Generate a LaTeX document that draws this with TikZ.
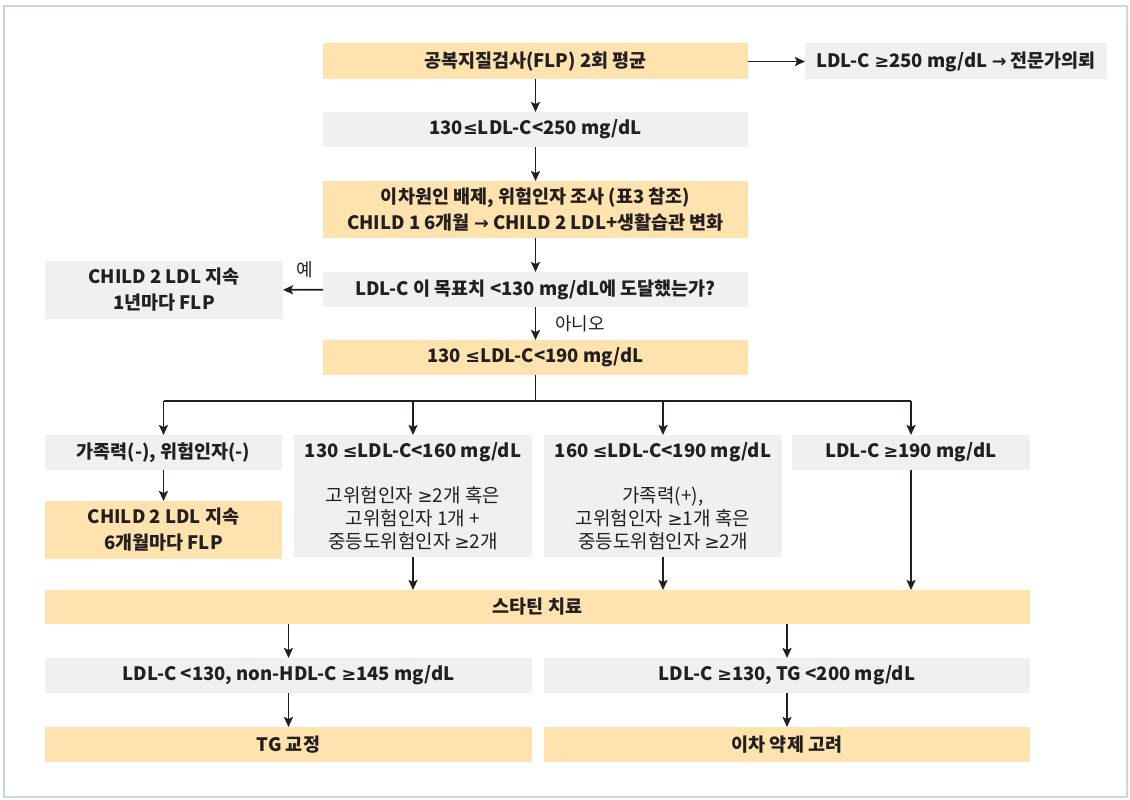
\documentclass[tikz,border=0pt]{standalone}
\usepackage{fontspec}
\setmainfont{Noto Sans CJK KR}
\newfontfamily\symf{DejaVu Sans}[Scale=0.95]
\newcommand{\gee}{{\symf ≥}}
\newcommand{\lee}{{\symf ≤}}
\newcommand{\rarr}{{\symf →}}
\usetikzlibrary{arrows.meta}
\definecolor{peach}{HTML}{FEE3AF}
\definecolor{lgray}{HTML}{EFF0F2}
\definecolor{framec}{HTML}{C9D6DC}
\definecolor{ink}{HTML}{231F20}
\tikzset{
  base/.style={inner sep=0pt, outer sep=0pt, text=ink, align=center, font=\fontsize{18.5}{26}\selectfont\bfseries},
  obox/.style={base, fill=peach},
  gbox/.style={base, fill=lgray},
  arr/.style={draw=ink, line width=1.8pt, -{Stealth[length=10pt,width=9pt,inset=2pt]}},
  ln/.style={draw=ink, line width=1.8pt},
  lbl/.style={inner sep=0pt, text=ink, font=\fontsize{18}{22}\selectfont},
  body/.style={inner sep=0pt, text=ink, align=center, font=\fontsize{19}{23}\selectfont},
}
\begin{document}
\begin{tikzpicture}[x=1pt,y=-1pt]
\useasboundingbox (0,0) rectangle (1130,800);
\draw[framec, line width=1.5pt] (4,6) rectangle (1127,797);

\node[obox, minimum width=425pt, minimum height=36pt] (n1) at (535.5,61.5) {공복지질검사(FLP) 2회 평균};
\node[gbox, minimum width=302pt, minimum height=36pt] (r1) at (956,61.5) {LDL-C \gee250 mg/dL \rarr\ 전문가의뢰};
\node[gbox, minimum width=425pt, minimum height=35pt] (n2) at (535.5,129.5) {130\lee LDL-C<250 mg/dL};
\node[obox, minimum width=425pt, minimum height=57pt] (n3) at (535.5,209.5) {이차원인 배제, 위험인자 조사 (표3 참조)\\CHILD 1 6개월 \rarr\ CHILD 2 LDL+생활습관 변화};
\node[gbox, minimum width=425pt, minimum height=35pt] (q) at (535.5,289.5) {LDL-C 이 목표치 <130 mg/dL에 도달했는가?};
\node[gbox, minimum width=238pt, minimum height=58pt] (y1) at (164,290) {CHILD 2 LDL 지속\\1년마다 FLP};
\node[obox, minimum width=425pt, minimum height=35pt] (n4) at (535.5,357.5) {130 \lee LDL-C<190 mg/dL};

\node[gbox, minimum width=237pt, minimum height=35pt] (A) at (163.5,452.5) {가족력(-), 위험인자(-)};
\node[obox, minimum width=237pt, minimum height=58pt] (A2) at (163.5,530) {CHILD 2 LDL 지속\\6개월마다 FLP};
\node[gbox, minimum width=238pt, minimum height=122pt] (B) at (413,496) {};
\node[base] (Bt) at (413,452.5) {130 \lee LDL-C<160 mg/dL};
\node[body] (Bb) at (413,518.5) {고위험인자 \gee2개 혹은\\고위험인자 1개 +\\중등도위험인자 \gee2개};
\node[gbox, minimum width=238pt, minimum height=122pt] (C) at (663,496) {};
\node[base] (Ct) at (663,452.5) {160 \lee LDL-C<190 mg/dL};
\node[body] (Cb) at (663,518.5) {가족력(+),\\고위험인자 \gee1개 혹은\\중등도위험인자 \gee2개};
\node[gbox, minimum width=238pt, minimum height=35pt] (D) at (911,452.5) {LDL-C \gee190 mg/dL};

\node[obox, minimum width=985pt, minimum height=34pt] (S) at (537.5,607) {스타틴 치료};
\node[gbox, minimum width=487pt, minimum height=35pt] (L1) at (288.5,675.5) {LDL-C <130, non-HDL-C \gee145 mg/dL};
\node[gbox, minimum width=486pt, minimum height=35pt] (R1) at (787,675.5) {LDL-C \gee130, TG <200 mg/dL};
\node[obox, minimum width=487pt, minimum height=35pt] (L2) at (288.5,744.5) {TG 교정};
\node[obox, minimum width=486pt, minimum height=35pt] (R2) at (787,744.5) {이차 약제 고려};

\draw[arr] (n1) -- (n2);
\draw[arr] (n1) -- (r1);
\draw[arr] (n2) -- (n3);
\draw[arr] (n3) -- (q);
\draw[arr] (q) -- (y1);
\node[lbl] (yes) at (305,270) {예};
\draw[arr] (q) -- (n4);
\node[lbl] (no) at (580,324) {아니오};

\coordinate (bar) at (535.5,401);
\draw[ln] (n4.south) -- (bar);
\draw[ln] (A.north |- bar) -- (D.north |- bar);
\draw[arr] (A.north |- bar) -- (A.north);
\draw[arr] (B.north |- bar) -- (B.north);
\draw[arr] (C.north |- bar) -- (C.north);
\draw[arr] (D.north |- bar) -- (D.north);
\draw[arr] (A) -- (A2);
\draw[arr] (B.south) -- (B.south |- S.north);
\draw[arr] (C.south) -- (C.south |- S.north);
\draw[arr] (D.south) -- (D.south |- S.north);
\draw[arr] (S.south -| L1.north) -- (L1.north);
\draw[arr] (S.south -| R1.north) -- (R1.north);
\draw[arr] (L1) -- (L2);
\draw[arr] (R1) -- (R2);
\end{tikzpicture}
\end{document}
